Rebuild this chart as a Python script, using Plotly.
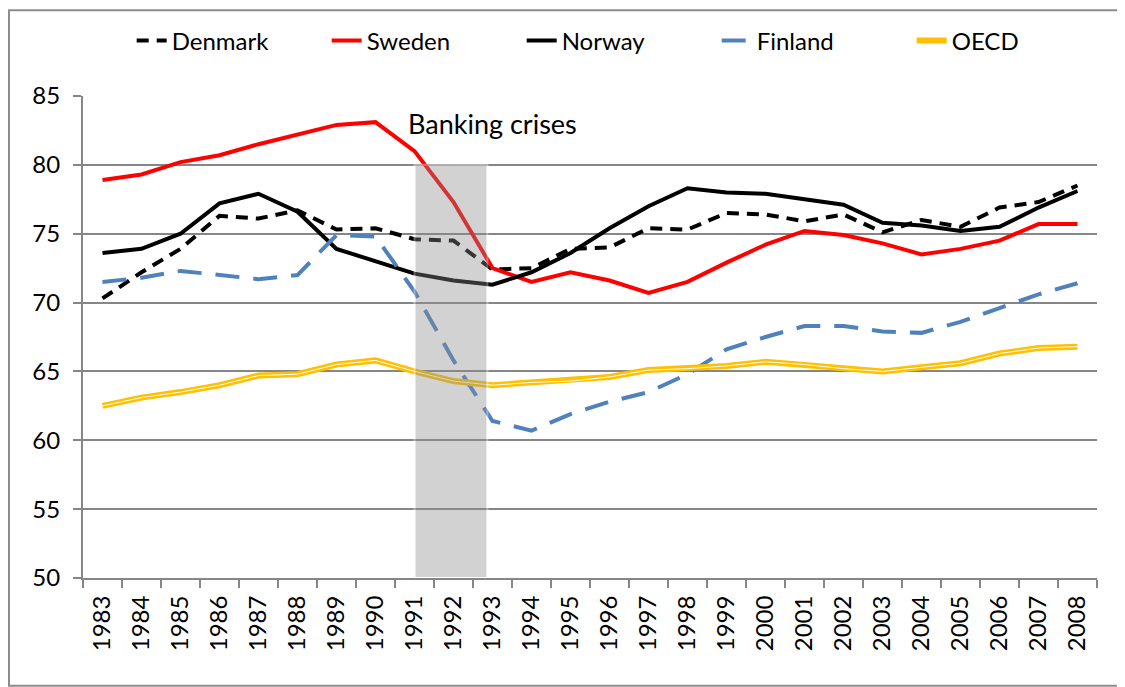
import plotly.graph_objects as go

years = [str(y) for y in range(1983, 2009)]

denmark = [70.3, 72.2, 73.9, 76.3, 76.1, 76.7, 75.3, 75.4, 74.6, 74.5, 72.4, 72.5, 73.9,
           74.0, 75.4, 75.3, 76.5, 76.4, 75.9, 76.4, 75.1, 76.0, 75.5, 76.9, 77.3, 78.5]
sweden = [78.9, 79.3, 80.2, 80.7, 81.5, 82.2, 82.9, 83.1, 81.0, 77.3, 72.5, 71.5, 72.2,
          71.6, 70.7, 71.5, 72.9, 74.2, 75.2, 74.9, 74.3, 73.5, 73.9, 74.5, 75.7, 75.7]
norway = [73.6, 73.9, 75.0, 77.2, 77.9, 76.6, 73.9, 73.0, 72.1, 71.6, 71.3, 72.2, 73.6,
          75.4, 77.0, 78.3, 78.0, 77.9, 77.5, 77.1, 75.8, 75.6, 75.2, 75.5, 76.9, 78.1]
finland = [71.5, 71.8, 72.3, 72.0, 71.7, 72.0, 74.9, 74.8, 70.8, 65.8, 61.4, 60.7, 61.9,
           62.8, 63.5, 64.8, 66.6, 67.5, 68.3, 68.3, 67.9, 67.8, 68.6, 69.6, 70.6, 71.4]
oecd = [62.5, 63.1, 63.5, 64.0, 64.7, 64.8, 65.5, 65.8, 65.0, 64.3, 64.0, 64.2, 64.3,
        64.6, 65.1, 65.2, 65.4, 65.7, 65.5, 65.2, 65.0, 65.3, 65.6, 66.3, 66.7, 66.8]

crisis_start = "1991"
crisis_end = "1993"

fig = go.Figure()
fig.add_trace(go.Scatter(x=years, y=denmark, name="Denmark", mode="lines",
                         line=dict(color="black", width=4, dash="12px,8px")))
fig.add_trace(go.Scatter(x=years, y=sweden, name="Sweden", mode="lines",
                         line=dict(color="#FF0000", width=4)))
fig.add_trace(go.Scatter(x=years, y=norway, name="Norway", mode="lines",
                         line=dict(color="black", width=4)))
fig.add_trace(go.Scatter(x=years, y=finland, name="Finland", mode="lines",
                         line=dict(color="#4F81BD", width=4, dash="24px,14px")))
fig.add_trace(go.Scatter(x=years, y=oecd, name="OECD", mode="lines",
                         line=dict(color="#FFC000", width=6)))
# thin white core gives the double-line look
fig.add_trace(go.Scatter(x=years, y=oecd, mode="lines", showlegend=False, hoverinfo="skip",
                         line=dict(color="white", width=1)))

i0 = years.index(crisis_start)
i1 = years.index(crisis_end)
fig.add_shape(type="rect", xref="x", yref="y", x0=i0, x1=i1 - 0.13, y0=50, y1=80,
              fillcolor="rgb(140,140,140)", opacity=0.38, line=dict(color="white", width=2),
              layer="above")
fig.add_annotation(x=i1, y=83.0, xref="x", yref="y", text="Banking crises", showarrow=False,
                   font=dict(size=27, color="black"))

# outer frame round the whole picture (page body adds 8px offset)
W, H = 1117, 679
L, R, T, B = 75, 28, 87, 109
pw, ph = W - L - R, H - T - B
fig.add_shape(type="rect", xref="paper", yref="paper",
              x0=(1 - L) / pw, x1=(W - L - 1) / pw, y0=-(B - 1) / ph, y1=(H - B - 1) / ph,
              line=dict(color="#8c8c8c", width=2))

fig.update_layout(
    width=W, height=H,
    margin=dict(l=L, r=R, t=T, b=B),
    plot_bgcolor="white", paper_bgcolor="white",
    font=dict(family="Lato, 'Open Sans', sans-serif", size=24, color="black"),
    legend=dict(orientation="h", x=0.048, xanchor="left", y=1.112, yanchor="middle",
                font=dict(size=24), bgcolor="rgba(0,0,0,0)", entrywidth=150,
                tracegroupgap=0),
    xaxis=dict(type="category", range=[-0.5, 25.5], tickangle=-90, ticks="outside",
               tickson="boundaries", ticklen=8, tickcolor="#868686", tickwidth=2,
               showline=True, linecolor="#868686", linewidth=2, showgrid=False,
               tickfont=dict(size=24), ticklabelstandoff=6, automargin=False),
    yaxis=dict(range=[50, 85], dtick=5, ticks="outside", ticklen=8, tickcolor="#868686",
               tickwidth=2, showline=True, linecolor="#868686", linewidth=2,
               gridcolor="#868686", gridwidth=2, zeroline=False, tickfont=dict(size=24),
               ticklabelstandoff=8, automargin=False),
)

fig.write_html("out.html")
